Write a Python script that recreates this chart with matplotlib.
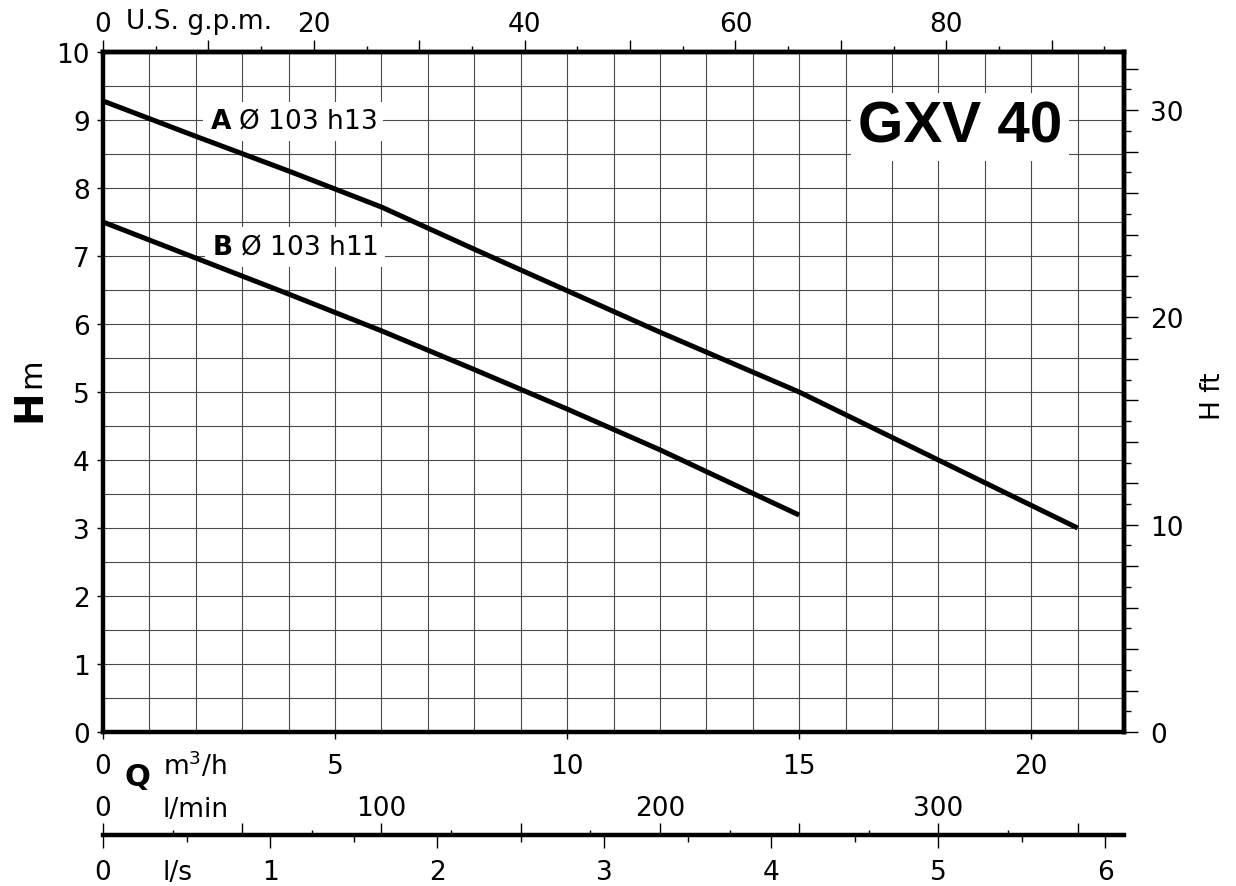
import numpy as np
import matplotlib
matplotlib.use("Agg")
import matplotlib.pyplot as plt
from matplotlib.ticker import MultipleLocator, FuncFormatter

# pump curves, Q in m3/h, H in m
q_a = [0, 2, 4, 6, 8, 10, 12, 15, 18, 21]
h_a = [9.28, 8.76, 8.25, 7.72, 7.10, 6.49, 5.88, 5.00, 4.00, 3.00]
q_b = [0, 2, 4, 6, 8, 10, 12, 15]
h_b = [7.50, 6.97, 6.44, 5.90, 5.33, 4.75, 4.15, 3.19]

label_a = r"$\mathbf{A}$ Ø 103 h13"
label_b = r"$\mathbf{B}$ Ø 103 h11"
title = "GXV 40"

# unit conversions
M3H_TO_GPM = 4.40287
M_TO_FT = 3.28084
M3H_TO_LS = 1 / 3.6

W, H = 1236, 887


def fx(x):
    return x / W


def fy(y):
    return 1 - y / H


fig = plt.figure(figsize=(W / 100, H / 100), dpi=100)
FS = 19
SPINE = 3.2

# main chart
ax = fig.add_axes([fx(103), fy(733), fx(1124) - fx(103), fy(53) - fy(733)])
ax.set_xlim(0, 22)
ax.set_ylim(0, 10)
ax.xaxis.set_major_locator(MultipleLocator(5))
ax.xaxis.set_minor_locator(MultipleLocator(1))
ax.yaxis.set_major_locator(MultipleLocator(1))
ax.yaxis.set_minor_locator(MultipleLocator(0.5))
ax.grid(which="both", color="#4a4a4a", lw=0.8)
ax.set_axisbelow(True)
ax.tick_params(which="minor", length=0)
ax.tick_params(axis="x", which="major", length=5, width=1, pad=10, labelsize=FS)
ax.tick_params(axis="y", which="major", length=4.5, width=1, pad=5, labelsize=FS)
for s in ax.spines.values():
    s.set_linewidth(SPINE)

ax.plot(q_a, h_a, color="black", lw=3.6, zorder=3, solid_capstyle="butt")
ax.plot(q_b, h_b, color="black", lw=3.6, zorder=3, solid_capstyle="butt")

box = dict(boxstyle="square,pad=0.25", fc="white", ec="none")
ax.text(2.3, 8.88, label_a, fontsize=FS, ha="left", va="baseline", bbox=box, zorder=1)
ax.text(2.35, 7.03, label_b, fontsize=FS, ha="left", va="baseline", bbox=box, zorder=1)
ax.text(18.47, 8.68, title, fontsize=42, fontweight="bold",
        family=["Liberation Sans Narrow", "Liberation Sans"],
        ha="center", va="baseline", zorder=1,
        bbox=dict(boxstyle="square,pad=0.12", fc="white", ec="none"))

# top axis: US gpm
top = ax.secondary_xaxis("top", functions=(lambda q: q * M3H_TO_GPM, lambda g: g / M3H_TO_GPM))
top.xaxis.set_major_locator(MultipleLocator(10))
top.xaxis.set_minor_locator(MultipleLocator(5))
top.xaxis.set_major_formatter(FuncFormatter(lambda v, p: f"{v:.0f}" if round(v) % 20 == 0 else ""))
top.tick_params(which="major", length=9, width=1, pad=2, labelsize=FS)
top.tick_params(which="minor", length=4, width=1)
for s in top.spines.values():
    s.set_linewidth(SPINE)

# right axis: ft
right = ax.secondary_yaxis("right", functions=(lambda m: m * M_TO_FT, lambda f: f / M_TO_FT))
right.yaxis.set_major_locator(MultipleLocator(2))
right.yaxis.set_minor_locator(MultipleLocator(1))
right.yaxis.set_major_formatter(FuncFormatter(lambda v, p: f"{v:.0f}" if round(v) % 10 == 0 else ""))
right.tick_params(which="major", length=10, width=1, pad=9, labelsize=FS)
right.tick_params(which="minor", length=5, width=1)
for s in right.spines.values():
    s.set_linewidth(SPINE)

# lower scale: l/s below, l/min above
ax2 = fig.add_axes([fx(103), fy(836), fx(1124) - fx(103), 0.0005])
ax2.set_xlim(0, 22 * M3H_TO_LS)
ax2.set_yticks([])
ax2.patch.set_visible(False)
for k in ["top", "left", "right"]:
    ax2.spines[k].set_visible(False)
ax2.spines["bottom"].set_linewidth(SPINE)
ax2.xaxis.set_major_locator(MultipleLocator(1))
ax2.xaxis.set_minor_locator(MultipleLocator(0.5))
ax2.tick_params(axis="x", which="major", length=9, width=1, pad=8, labelsize=FS)
ax2.tick_params(axis="x", which="minor", length=5, width=1)

lmin = ax2.secondary_xaxis("top", functions=(lambda s: s * 60, lambda m: m / 60))
lmin.xaxis.set_major_locator(MultipleLocator(50))
lmin.xaxis.set_minor_locator(MultipleLocator(25))
lmin.xaxis.set_major_formatter(FuncFormatter(lambda v, p: f"{v:.0f}" if round(v) % 100 == 0 else ""))
lmin.tick_params(which="major", length=9, width=1, pad=1, labelsize=FS)
lmin.tick_params(which="minor", length=3.5, width=1)
for s in lmin.spines.values():
    s.set_visible(False)

# unit labels
fig.text(fx(126), fy(22), "U.S. g.p.m.", fontsize=FS, ha="left", va="center")
fig.text(fx(124), fy(786), "Q", fontsize=22, fontweight="bold", ha="left", va="baseline")
fig.text(fx(163), fy(775), "m$^3$/h", fontsize=FS, ha="left", va="baseline")
fig.text(fx(163), fy(817), "l/min", fontsize=FS, ha="left", va="baseline")
fig.text(fx(163), fy(880), "l/s", fontsize=FS, ha="left", va="baseline")
fig.text(fx(40), fy(422), "H", fontsize=28, fontweight="bold", rotation=90,
         rotation_mode="anchor", ha="left", va="baseline")
fig.text(fx(40), fy(388), "m", fontsize=22, rotation=90,
         rotation_mode="anchor", ha="left", va="baseline")
fig.text(fx(1220), fy(420), "H ft", fontsize=FS, rotation=90,
         rotation_mode="anchor", ha="left", va="baseline")

fig.savefig("out.png", dpi=100)
